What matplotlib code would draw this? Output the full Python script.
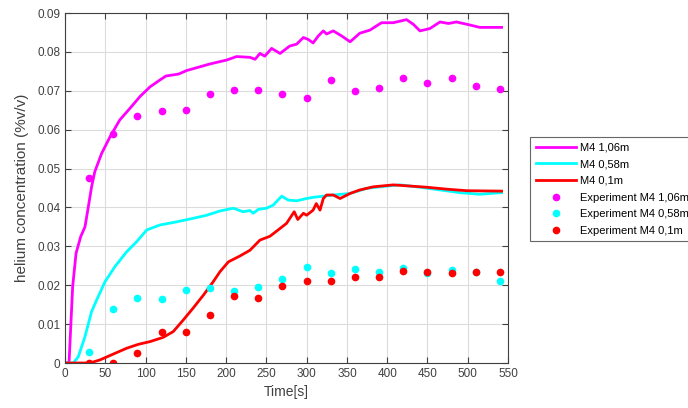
import matplotlib
matplotlib.use("Agg")
import matplotlib.pyplot as plt
from matplotlib.ticker import FuncFormatter, MultipleLocator

plt.rcParams['font.family'] = ['Liberation Sans', 'DejaVu Sans']

# Simulation curves
t_m106 = [0, 5, 9.5, 13.7, 19.5, 24.8, 29, 33, 37, 45.5, 56, 68, 80.7, 93, 105.5, 118, 125.4, 141, 151,
          180, 200.7, 213, 229.6, 236, 242, 248, 256.5, 267, 279, 287.6, 296, 302, 308, 314.5, 320.7,
          324.8, 333, 343.5, 354, 366, 378.6, 393, 407.6, 424, 432.4, 440.7, 453, 465.6, 476, 486, 503,
          515, 542]
c_m106 = [0, 0, 0.0196, 0.0282, 0.0325, 0.035, 0.0402, 0.0453, 0.0492, 0.0539, 0.0582, 0.0625, 0.0655,
          0.0685, 0.0710, 0.0728, 0.0738, 0.0743, 0.0752, 0.0769, 0.0779, 0.0788, 0.0786, 0.0781, 0.0796,
          0.0789, 0.0809, 0.0796, 0.0815, 0.0820, 0.0837, 0.0832, 0.0823, 0.0841, 0.0854, 0.0846, 0.0854,
          0.0841, 0.0826, 0.0848, 0.0856, 0.0875, 0.0875, 0.0883, 0.0871, 0.0854, 0.0860, 0.0877, 0.0873,
          0.0877, 0.0869, 0.0863, 0.0863]

t_m058 = [0, 10.3, 16.5, 24.8, 33, 39.3, 49.7, 62, 76.6, 89, 101.4, 118, 138.7, 159, 176, 192.5, 209,
          221, 229.7, 233.7, 240, 250, 258.5, 269, 277, 287.6, 300, 308, 333, 354, 374.5, 399.6, 416,
          440.7, 465.6, 490.5, 515, 542]
c_m058 = [0, 0, 0.0016, 0.0068, 0.0132, 0.0162, 0.0209, 0.0248, 0.0286, 0.0312, 0.0342, 0.0355, 0.0363,
          0.0372, 0.0380, 0.0391, 0.0398, 0.0389, 0.0392, 0.0385, 0.0395, 0.0398, 0.0406, 0.0429, 0.0419,
          0.0417, 0.0423, 0.0426, 0.0432, 0.0436, 0.0449, 0.0455, 0.0458, 0.0452, 0.0445, 0.0438, 0.0434,
          0.0438]

t_m01 = [0, 31, 43.5, 60, 76.6, 91, 105.5, 122, 134.5, 147, 159, 172, 184, 192.5, 202.8, 217, 229.7, 242,
         254.5, 267, 275, 284.6, 289, 296, 300, 308, 312, 316.6, 320.7, 324.8, 333, 341.5, 354, 366,
         382.6, 407.6, 428.5, 449, 474, 499, 542]
c_m01 = [0, 0, 0.0008, 0.0023, 0.0038, 0.0048, 0.0055, 0.0066, 0.0081, 0.0111, 0.0141, 0.0175, 0.0209,
         0.0235, 0.0260, 0.0275, 0.0290, 0.0316, 0.0326, 0.0346, 0.0359, 0.0389, 0.0369, 0.0385, 0.0380,
         0.0393, 0.0410, 0.0393, 0.0423, 0.0432, 0.0432, 0.0423, 0.0436, 0.0445, 0.0453, 0.0458, 0.0455,
         0.0452, 0.0447, 0.0443, 0.0442]

# Experimental points
t_exp = [30, 60, 90, 120, 150, 180, 210, 240, 270, 300, 330, 360, 390, 420, 450, 480, 510, 540]
e_m106 = [0.0477, 0.0590, 0.0635, 0.0647, 0.0650, 0.0691, 0.0702, 0.0702, 0.0693, 0.0682, 0.0729,
          0.0700, 0.0708, 0.0734, 0.0721, 0.0732, 0.0712, 0.0704]
e_m058 = [0.0028, 0.0138, 0.0166, 0.0164, 0.0188, 0.0194, 0.0185, 0.0196, 0.0216, 0.0248, 0.0231,
          0.0242, 0.0234, 0.0244, 0.0231, 0.0238, 0.0233, 0.0212]
e_m01 = [0.0, 0.0, 0.0026, 0.0081, 0.0080, 0.0123, 0.0172, 0.0168, 0.0198, 0.0211, 0.0211, 0.0222,
         0.0222, 0.0236, 0.0235, 0.0231, 0.0235, 0.0235]

labels = ['M4 1,06m', 'M4 0,58m', 'M4 0,1m',
          'Experiment M4 1,06m', 'Experiment M4 0,58m', 'Experiment M4 0,1m']
colors = ['#FF00FF', '#00FFFF', '#FF0000']

fig = plt.figure(figsize=(6.88, 4.08), dpi=100)
ax = fig.add_axes([65/688, 45/408, 443/688, 350/408])

handles = []
for t, c, col, lab in zip([t_m106, t_m058, t_m01], [c_m106, c_m058, c_m01], colors, labels[:3]):
    h, = ax.plot(t, c, color=col, lw=2, label=lab)
    handles.append(h)
for e, col, lab in zip([e_m106, e_m058, e_m01], colors, labels[3:]):
    h, = ax.plot(t_exp, e, ls='none', marker='o', ms=4.5, color=col, label=lab)
    handles.append(h)

ax.set_xlim(0, 550)
ax.set_ylim(0, 0.09)
ax.xaxis.set_major_locator(MultipleLocator(50))
ax.yaxis.set_major_locator(MultipleLocator(0.01))
ax.yaxis.set_major_formatter(FuncFormatter(lambda v, p: '0' if abs(v) < 1e-9 else f'{v:.2f}'))
ax.grid(True, color='#dcdcdc', lw=0.8)
ax.set_axisbelow(True)
ax.tick_params(direction='in', top=True, right=True, labelsize=8.5, colors='#404040',
               length=4, width=0.8)
for s in ax.spines.values():
    s.set_color('#404040')
    s.set_linewidth(0.8)
ax.set_xlabel('Time[s]', fontsize=10, color='#404040')
ax.set_ylabel('helium concentration (%v/v)', fontsize=11, color='#404040', labelpad=6)

leg = fig.legend(handles=handles, loc='upper left', bbox_to_anchor=(530/688, 271/408),
                 fontsize=8, frameon=True, fancybox=False, edgecolor='#404040',
                 handlelength=3.6, labelspacing=0.6, borderpad=0.5, borderaxespad=0,
                 handletextpad=0.4)
leg.get_frame().set_linewidth(0.8)

fig.savefig('out.png', dpi=100)
